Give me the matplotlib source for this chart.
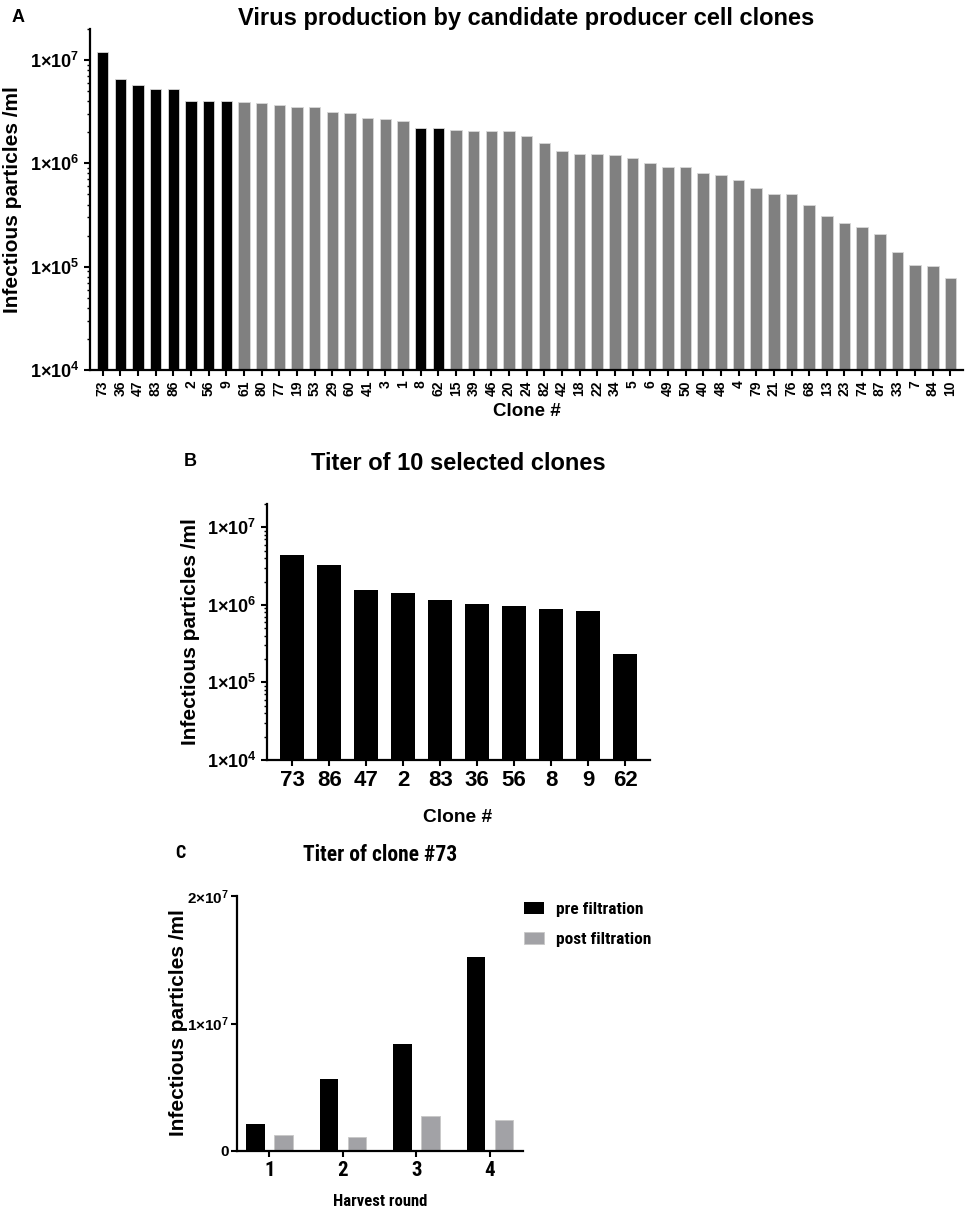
import math
import matplotlib
matplotlib.use("Agg")
import matplotlib.pyplot as plt
from matplotlib import font_manager
from matplotlib.ticker import FixedLocator, LogLocator, NullFormatter, FuncFormatter

# panel A: all candidate clones, sorted by titer
clones_a = ["73", "36", "47", "83", "86", "2", "56", "9", "61", "80", "77", "19", "53",
            "29", "60", "41", "3", "1", "8", "62", "15", "39", "46", "20", "24", "82",
            "42", "18", "22", "34", "5", "6", "49", "50", "40", "48", "4", "79", "21",
            "76", "68", "13", "23", "74", "87", "33", "7", "84", "10"]
titer_a = [1.21e7, 6.6e6, 5.8e6, 5.3e6, 5.2e6, 4.06e6, 4.06e6, 4.0e6, 3.9e6, 3.88e6,
           3.66e6, 3.5e6, 3.5e6, 3.13e6, 3.08e6, 2.78e6, 2.7e6, 2.6e6, 2.19e6, 2.19e6,
           2.09e6, 2.08e6, 2.07e6, 2.05e6, 1.83e6, 1.58e6, 1.32e6, 1.24e6, 1.22e6,
           1.21e6, 1.13e6, 1.0e6, 9.3e5, 9.3e5, 8.1e5, 7.65e5, 6.85e5, 5.8e5, 5.1e5,
           5.1e5, 4.0e5, 3.1e5, 2.67e5, 2.43e5, 2.06e5, 1.38e5, 1.05e5, 1.02e5, 7.7e4]
selected = ["73", "36", "47", "83", "86", "2", "56", "9", "8", "62"]

# panel B: re-titered selected clones
clones_b = ["73", "86", "47", "2", "83", "36", "56", "8", "9", "62"]
titer_b = [4.38e6, 3.25e6, 1.55e6, 1.41e6, 1.17e6, 1.02e6, 9.6e5, 8.9e5, 8.3e5, 2.34e5]

# panel C: clone 73 harvests
rounds = ["1", "2", "3", "4"]
pre_filt = [2.14e6, 5.67e6, 8.42e6, 1.52e7]
post_filt = [1.25e6, 1.07e6, 2.72e6, 2.46e6]

names = {f.name for f in font_manager.fontManager.ttflist}
BASE = "Liberation Sans"
NARROW = None
for cand in ["Liberation Sans Narrow", "Arial Narrow", "Roboto Condensed",
             "Open Sans Condensed", "Noto Sans Condensed"]:
    if cand in names:
        NARROW = cand
        break
if NARROW:
    # condensed face: sizes
    sz = dict(title=15.5, tick=15, leg=12.5, xlab=12, ytick=11)
else:
    NARROW = BASE
    sz = dict(title=14, tick=14, leg=12, xlab=10, ytick=10)

plt.rcParams["font.family"] = [BASE, "DejaVu Sans"]
plt.rcParams["font.weight"] = "bold"
plt.rcParams["mathtext.fontset"] = "custom"
plt.rcParams["mathtext.rm"] = BASE + ":bold"
plt.rcParams["mathtext.it"] = BASE + ":bold"
plt.rcParams["mathtext.bf"] = BASE + ":bold"

W, H = 966, 1212
fig = plt.figure(figsize=(W / 100, H / 100), dpi=100)


def box(l, t, r, b):
    return [l / W, 1 - b / H, (r - l) / W, (b - t) / H]


def style(ax):
    for s in ["top", "right"]:
        ax.spines[s].set_visible(False)
    for s in ["left", "bottom"]:
        ax.spines[s].set_linewidth(1.6)
    ax.tick_params(which="major", direction="out", length=4, width=1.5)
    ax.tick_params(which="minor", direction="out", length=2.2, width=1)


def sci(v, pos):
    if v <= 0:
        return "0"
    e = int(round(math.log10(v)))
    m = v / 10 ** e
    return r"$%d{\times}10^{%d}$" % (round(m), e)


def logaxis(ax):
    ax.set_yscale("log")
    ax.set_ylim(1e4, 2e7)
    ax.yaxis.set_major_locator(FixedLocator([1e4, 1e5, 1e6, 1e7]))
    ax.yaxis.set_major_formatter(FuncFormatter(sci))
    ax.yaxis.set_minor_locator(LogLocator(base=10, subs=range(2, 10)))
    ax.yaxis.set_minor_formatter(NullFormatter())


# ---- A ----
axA = fig.add_axes(box(90, 29, 963, 370))
xa = list(range(len(clones_a)))
cols = ["black" if c in selected else "#808080" for c in clones_a]
axA.bar(xa, titer_a, width=0.65, color=cols, edgecolor="#d8d8d8", linewidth=0.6)
logaxis(axA)
axA.set_xlim(-0.72, len(clones_a) - 1 + 0.71)
axA.set_xticks(xa)
axA.set_xticklabels(clones_a, rotation=90, fontsize=10)
axA.tick_params(axis="y", labelsize=13)
style(axA)
fig.text(12 / W, 1 - 18 / H, "A", fontsize=13, va="center", ha="left")
fig.text(526 / W, 1 - 18 / H, "Virus production by candidate producer cell clones",
         fontsize=17, ha="center", va="center")
fig.text(13 / W, 1 - 200 / H, "Infectious particles /ml", fontsize=15, rotation=90,
         ha="center", va="center")
fig.text(527 / W, 1 - 412 / H, "Clone #", fontsize=13.5, ha="center", va="center")

# ---- B ----
axB = fig.add_axes(box(267, 504, 650, 760))
xb = list(range(len(clones_b)))
axB.bar(xb, titer_b, width=0.65, color="black")
logaxis(axB)
axB.set_xlim(-0.68, len(clones_b) - 1 + 0.67)
axB.set_xticks(xb)
axB.set_xticklabels(clones_b, fontsize=16)
axB.tick_params(axis="y", labelsize=13)
style(axB)
fig.text(190 / W, 1 - 462 / H, "B", fontsize=13, va="center", ha="center")
fig.text(458 / W, 1 - 463 / H, "Titer of 10 selected clones", fontsize=17,
         ha="center", va="center")
fig.text(190 / W, 1 - 632 / H, "Infectious particles /ml", fontsize=15, rotation=90,
         ha="center", va="center")
fig.text(458 / W, 1 - 818 / H, "Clone #", fontsize=13.8, ha="center", va="center")

# ---- C ----
axC = fig.add_axes(box(237, 896, 523, 1151))
xc = list(range(len(rounds)))
axC.bar([x - 0.19 for x in xc], pre_filt, width=0.25, color="black",
        label="pre filtration")
axC.bar([x + 0.19 for x in xc], post_filt, width=0.25, color="#a2a2a6",
        edgecolor="#c8c8c8", linewidth=0.6, label="post filtration")
axC.set_ylim(0, 2e7)
axC.set_xlim(-0.44, 3.45)
axC.set_yticks([0, 1e7, 2e7])
axC.yaxis.set_major_formatter(FuncFormatter(sci))
axC.set_xticks(xc)
axC.set_xticklabels(rounds, fontsize=sz["tick"], family=NARROW)
for lab in axC.get_yticklabels():
    lab.set_fontsize(sz["ytick"])
style(axC)
axC.tick_params(axis="y", pad=2)
leg = axC.legend(loc="upper left", bbox_to_anchor=(1.005, 0.975), frameon=False,
                 borderaxespad=0, borderpad=0, handlelength=1.15, handleheight=0.69,
                 handletextpad=0.69, labelspacing=0.82,
                 prop={"family": NARROW, "weight": "bold", "size": sz["leg"]})
fig.text(180 / W, 1 - 853 / H, "C", fontsize=13, va="center", ha="center",
         family=NARROW)
fig.text(380 / W, 1 - 855 / H, "Titer of clone #73", fontsize=sz["title"],
         ha="center", va="center", family=NARROW)
fig.text(178 / W, 1 - 1023 / H, "Infectious particles /ml", fontsize=15, rotation=90,
         ha="center", va="center")
fig.text(380 / W, 1 - 1202 / H, "Harvest round", fontsize=sz["xlab"],
         ha="center", va="center", family=NARROW)

fig.savefig("out.png", dpi=100)
